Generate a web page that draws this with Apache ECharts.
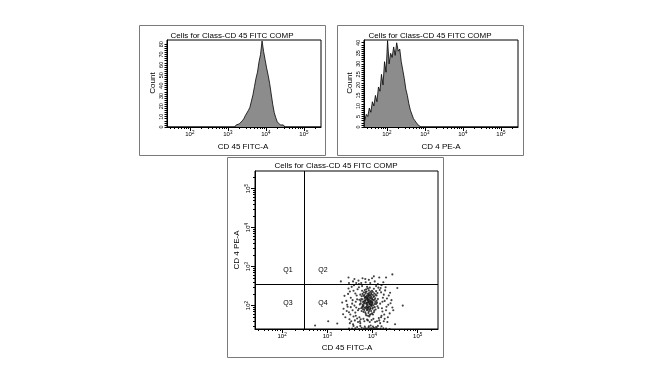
<!DOCTYPE html>
<html>
<head>
    <meta charset="utf-8">
    <title>Cells for Class-CD 45 FITC COMP</title>
    <script src="https://cdn.jsdelivr.net/npm/echarts@6/dist/echarts.min.js"></script>
    <style>
        body { margin: 0; background: #fff; }
    </style>
</head>
<body>
<div id="main" style="width: 658px;height:376px;"></div>
<script>
    // values are log10 of the channel value
    var decadeTicks = [2, 3, 4, 5];

    // CD 45 FITC-A histogram
    var fitcBins = [1.42, 1.98, 2.02, 2.06, 2.70, 2.74, 2.78, 2.96, 3.00, 3.04,
        3.10, 3.14, 3.18, 3.22, 3.26, 3.30, 3.34, 3.38, 3.42, 3.46, 3.50, 3.54, 3.58, 3.62, 3.66,
        3.70, 3.74, 3.78, 3.82, 3.86, 3.90, 3.94, 3.98, 4.02, 4.06, 4.10, 4.14, 4.18, 4.22, 4.26,
        4.30, 4.34, 4.38, 4.42, 4.46, 4.50, 4.54, 4.58, 4.62, 5.45];
    var fitcCounts = [0, 0, 1, 0, 0, 1, 0, 0, 1, 0,
        0, 1, 0, 2, 1, 3, 4, 6, 8, 11, 12, 16, 19, 25, 31,
        39, 47, 53, 63, 70, 83, 73, 65, 57, 50, 42, 32, 22, 14, 9,
        5, 4, 2, 1, 2, 0, 1, 0, 0, 0];
    var fitcCountTicks = [0, 10, 20, 30, 40, 50, 60, 70, 80];

    // CD 4 PE-A histogram
    var peBins = [1.42, 1.46, 1.50, 1.54, 1.58, 1.62, 1.66, 1.70, 1.74, 1.78,
        1.82, 1.86, 1.90, 1.94, 1.98, 2.02, 2.06, 2.10, 2.14, 2.18,
        2.22, 2.26, 2.30, 2.34, 2.38, 2.42, 2.46, 2.50, 2.54, 2.58,
        2.62, 2.66, 2.70, 2.74, 2.78, 2.82, 2.86, 2.90, 5.45];
    var peCounts = [3, 6, 5, 9, 7, 12, 10, 15, 12, 19,
        17, 25, 20, 31, 26, 41, 30, 35, 33, 38,
        34, 40, 36, 37, 31, 27, 23, 18, 15, 11,
        8, 6, 4, 3, 2, 1, 1, 0, 0];
    var peCountTicks = [0, 5, 10, 15, 20, 25, 30, 35, 40];

    // quadrant gate [CD 45 FITC-A, CD 4 PE-A]
    var quadGate = [2.49, 2.54];
    var quadNames = ['Q1', 'Q2', 'Q3', 'Q4'];

    // dot plot events [CD 45 FITC-A, CD 4 PE-A]
    var dotEvents = [
        [3.92,2.10],[3.85,2.21],[4.01,1.95],[3.78,2.30],[3.96,2.02],[3.88,1.88],[4.05,2.15],[3.81,2.05],[3.93,2.33],[3.99,1.80],
        [3.74,2.12],[3.90,2.18],[4.08,2.04],[3.86,1.97],[3.95,2.27],[3.83,2.40],[4.02,2.22],[3.79,1.91],[3.97,1.86],[3.89,2.08],
        [4.11,1.98],[3.76,2.24],[3.91,1.93],[3.84,2.14],[4.04,2.31],[3.94,1.76],[3.87,2.36],[3.98,2.11],[3.80,1.84],[4.07,1.90],
        [3.72,2.03],[3.95,2.19],[3.90,2.44],[4.00,2.06],[3.82,2.27],[3.93,1.72],[4.09,2.26],[3.77,1.96],[3.88,2.01],[3.99,2.38],
        [3.85,1.79],[4.03,1.83],[3.92,2.29],[3.75,2.17],[3.96,2.13],[3.81,2.34],[4.06,2.09],[3.89,1.90],[3.94,2.46],[4.12,2.17],
        [3.70,1.92],[3.86,2.23],[3.98,1.99],[3.91,1.81],[4.01,2.35],[3.79,2.09],[3.93,2.05],[3.84,1.94],[4.05,1.96],[3.97,2.24],
        [3.88,2.48],[3.76,1.86],[4.00,2.16],[3.90,1.74],[3.83,2.19],[4.08,2.37],[3.95,1.91],[3.87,2.07],[3.73,2.28],[4.02,2.01],
        [3.92,2.39],[3.80,2.00],[3.96,1.78],[4.10,2.07],[3.85,2.31],[3.98,2.20],[3.89,2.13],[3.78,2.16],[4.04,1.87],[3.91,2.25],
        [3.94,1.97],[3.82,1.89],[4.07,2.28],[3.86,2.42],[3.99,2.03],[3.74,2.06],[3.93,2.15],[4.01,1.77],[3.88,2.26],[3.81,2.11],
        [3.97,2.32],[3.90,1.95],[4.06,2.19],[3.77,2.38],[3.95,2.08],[3.84,1.83],[4.03,2.43],[3.92,1.85],[3.87,2.17],[4.13,1.94],
        [3.71,2.15],[3.96,2.36],[3.89,2.03],[4.00,1.92],[3.83,2.07],[3.94,2.21],[3.79,1.98],[4.09,2.12],[3.86,1.75],[3.98,2.29],
        [3.91,2.09],[3.80,2.25],[4.05,2.04],[3.93,1.89],[3.85,2.35],[4.02,2.14],[3.75,1.93],[3.97,2.01],[3.88,2.20],[3.92,1.98],
        [3.84,2.12],[3.99,2.17],[3.90,2.30],[3.82,1.95],[3.95,2.11],[4.04,2.24],[3.87,1.92],[3.93,2.26],[3.78,2.02],[4.00,2.09],
        [3.89,2.16],[3.96,1.94],[3.86,2.05],[3.91,2.14],[3.94,2.04],[3.83,2.22],[4.01,2.27],[3.88,1.96],[3.97,2.07],[3.90,2.22],
        [3.55,2.05],[3.62,2.31],[4.22,2.10],[4.30,1.88],[3.48,1.83],[3.66,1.67],[4.18,2.45],[3.59,2.52],[4.25,2.28],[3.68,1.58],
        [4.15,1.62],[3.52,2.20],[4.35,2.02],[3.64,1.95],[4.20,1.74],[3.42,2.12],[3.70,2.55],[4.28,2.39],[3.58,1.72],[4.12,2.55],
        [3.45,1.97],[4.38,1.80],[3.67,2.42],[4.17,1.55],[3.61,1.62],[3.50,2.36],[4.24,2.60],[3.72,1.60],[4.32,2.18],[3.56,1.88],
        [3.40,1.70],[4.05,2.62],[3.63,2.10],[4.21,1.93],[3.38,2.25],[4.14,1.68],[3.69,2.64],[4.40,2.06],[3.53,1.60],[3.95,2.58],
        [4.27,1.66],[3.47,2.44],[3.74,1.65],[4.19,2.34],[3.60,2.00],[4.33,1.58],[3.65,2.26],[3.85,2.60],[3.36,1.92],[4.10,1.60],
        [3.57,2.62],[4.23,2.20],[3.71,1.70],[4.44,1.95],[3.51,1.77],[3.90,1.62],[4.16,2.40],[3.44,2.02],[3.80,1.66],[4.29,2.47],
        [3.62,1.82],[4.08,2.50],[3.33,2.08],[3.98,1.63],[4.36,2.26],[3.54,2.48],[3.77,2.50],[4.26,1.77],[3.49,1.65],[4.02,1.66],
        [3.66,2.16],[4.13,2.46],[3.58,2.38],[4.31,1.97],[3.43,1.86],[3.82,1.60],[4.20,2.52],[3.68,1.88],[4.42,2.14],[3.60,2.68],
        [3.92,2.66],[4.06,1.58],[3.52,1.96],[4.17,2.05],[3.75,2.58],[4.34,1.70],[3.46,2.30],[3.88,1.64],[4.22,1.85],[3.63,1.74],
        [3.99,2.70],[4.11,2.32],[3.56,2.14],[4.39,2.33],[3.70,2.47],[3.35,1.78],[4.27,2.12],[3.84,2.68],[3.48,2.58],[4.15,2.72],
        [3.73,1.55],[4.46,1.88],[3.64,2.58],[4.03,2.75],[3.57,1.52],[4.25,1.60],[3.94,1.58],[3.78,2.70],[4.19,1.70],[3.50,1.55],
        [3.55,1.41],[3.62,1.42],[3.70,1.40],[3.76,1.43],[3.81,1.41],[3.85,1.42],[3.88,1.40],[3.91,1.44],[3.94,1.41],[3.97,1.42],
        [4.00,1.40],[4.03,1.43],[4.06,1.41],[4.10,1.42],[4.14,1.40],[4.18,1.41],[4.24,1.42],[4.30,1.41],[4.38,1.40],[3.66,1.45],
        [3.83,1.46],[3.92,1.47],[4.01,1.46],[4.08,1.45],[3.48,1.41],[3.58,1.48],[4.20,1.47],[3.73,1.48],[3.96,1.49],[4.12,1.48],
        [4.67,2.00],[3.47,2.72],[4.44,2.80],[2.73,1.49],[3.22,1.54],[4.55,2.45],[3.30,2.62],[4.50,1.52],[3.02,1.60],[4.30,2.72]
    ];

    var myChart = echarts.init(document.getElementById('main'));

    var font = 'Liberation Sans, Arial, sans-serif';
    var logMin = 1.4, logMax = 5.45;

    // minor log ticks (2..9 x 10^n) inside the axis range
    var minorTicks = [];
    for (var n = 1; n <= 5; n++) {
        for (var k = 2; k <= 9; k++) {
            var v = n + Math.log10(k);
            if (v > logMin && v < logMax) minorTicks.push(v);
        }
    }

    function pair(xs, ys) {
        return xs.map(function (x, i) { return [x, ys[i]]; });
    }

    function supLabel(v) {
        return '{a|10}{b|' + v + '}';
    }
    var supRich = {
        a: { fontSize: 6, fontFamily: font, color: '#000', lineHeight: 8 },
        b: { fontSize: 4.5, fontFamily: font, color: '#000', verticalAlign: 'top', lineHeight: 8 }
    };

    function logAxes(gridIndex, rotate) {
        return [{
            type: 'value', gridIndex: gridIndex, min: logMin, max: logMax,
            position: rotate ? 'left' : 'bottom',
            axisLine: { show: true, lineStyle: { color: '#000', width: 1 } },
            axisTick: { show: true, customValues: decadeTicks, length: 4, lineStyle: { color: '#000' } },
            axisLabel: {
                customValues: decadeTicks, formatter: supLabel, rich: supRich,
                rotate: rotate ? 90 : 0, margin: 3
            },
            splitLine: { show: false }
        }, {
            type: 'value', gridIndex: gridIndex, min: logMin, max: logMax,
            position: rotate ? 'left' : 'bottom',
            axisLine: { show: false },
            axisTick: { show: true, customValues: minorTicks, length: 2, lineStyle: { color: '#000' } },
            axisLabel: { show: false },
            splitLine: { show: false }
        }];
    }

    function countAxis(gridIndex, max, ticks, minorStep) {
        var minor = [];
        for (var t = 0; t <= ticks[ticks.length - 1]; t += minorStep) minor.push(t);
        return [{
            type: 'value', gridIndex: gridIndex, min: 0, max: max,
            axisLine: { show: true, lineStyle: { color: '#000', width: 1 } },
            axisTick: { show: true, customValues: minor, length: 2.5, lineStyle: { color: '#000' } },
            axisLabel: {
                customValues: ticks, rotate: 90, margin: 3,
                fontSize: 5.5, fontFamily: font, color: '#000'
            },
            splitLine: { show: false }
        }];
    }

    var gridBase = { show: true, borderColor: '#000', borderWidth: 1, backgroundColor: 'transparent' };

    function txt(text, x, y, size, rot) {
        return {
            type: 'text', x: x, y: y, rotation: rot ? Math.PI / 2 : 0,
            style: {
                text: text, fill: '#000', font: size + 'px ' + font,
                align: 'center', verticalAlign: 'middle',
                textAlign: 'center', textVerticalAlign: 'middle'
            }
        };
    }

    var boxStyle = { fill: 'none', stroke: '#7a7a7a', lineWidth: 1 };
    var title = 'Cells for Class-CD 45 FITC COMP';

    var option = {
        animation: false,
        backgroundColor: '#fff',
        grid: [
            Object.assign({ left: 167, top: 40, width: 154, height: 87 }, gridBase),
            Object.assign({ left: 364, top: 40, width: 154, height: 87 }, gridBase),
            Object.assign({ left: 255, top: 171, width: 183, height: 158 }, gridBase)
        ],
        xAxis: [].concat(logAxes(0, false), logAxes(1, false), logAxes(2, false)),
        yAxis: [].concat(countAxis(0, 84, fitcCountTicks, 2), countAxis(1, 41.3, peCountTicks, 1), logAxes(2, true)),
        graphic: [
            { type: 'rect', shape: { x: 139.5, y: 25.5, width: 186, height: 130 }, style: boxStyle },
            { type: 'rect', shape: { x: 337.5, y: 25.5, width: 186, height: 130 }, style: boxStyle },
            { type: 'rect', shape: { x: 227.5, y: 157.5, width: 216, height: 200 }, style: boxStyle },
            txt(title, 232, 36, 8), txt(title, 430, 36, 8), txt(title, 336, 166, 8),
            txt('CD 45 FITC-A', 243, 147, 8), txt('Count', 153, 83, 8, true),
            txt('CD 4 PE-A', 441, 147, 8), txt('Count', 350, 83, 8, true),
            txt('CD 45 FITC-A', 347, 348, 8), txt('CD 4 PE-A', 237, 250, 8, true),
            txt(quadNames[0], 288, 270, 7), txt(quadNames[1], 323, 270, 7),
            txt(quadNames[2], 288, 303, 7), txt(quadNames[3], 323, 303, 7)
        ],
        series: [{
            type: 'line', xAxisIndex: 0, yAxisIndex: 0,
            data: pair(fitcBins, fitcCounts), symbol: 'none',
            lineStyle: { color: '#000', width: 0.8 },
            areaStyle: { color: '#8c8c8c', opacity: 1 }
        }, {
            type: 'line', xAxisIndex: 2, yAxisIndex: 1,
            data: pair(peBins, peCounts), symbol: 'none',
            lineStyle: { color: '#000', width: 0.8 },
            areaStyle: { color: '#8c8c8c', opacity: 1 }
        }, {
            type: 'scatter', xAxisIndex: 4, yAxisIndex: 2,
            data: dotEvents, symbolSize: 2.1,
            itemStyle: { color: '#111' },
            markLine: {
                silent: true, symbol: 'none', label: { show: false },
                lineStyle: { color: '#000', width: 1, type: 'solid' },
                data: [{ xAxis: quadGate[0] }, { yAxis: quadGate[1] }]
            }
        }]
    };

    myChart.setOption(option);
</script>
</body>
</html>
